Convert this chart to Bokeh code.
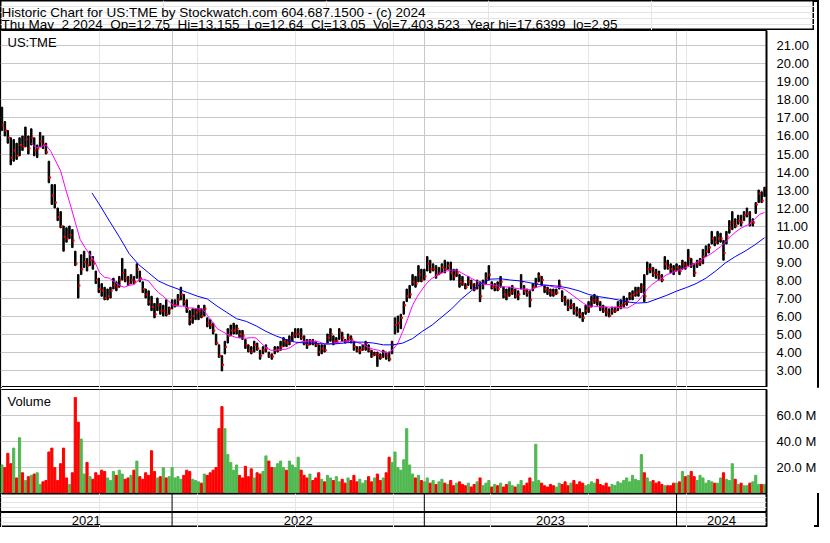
from bokeh.plotting import figure
from bokeh.models import Range1d, FixedTicker, PrintfTickFormatter, ColumnDataSource, Label, Span, Grid
from bokeh.layouts import column
from bokeh.transform import dodge
from bokeh.embed import file_html
from bokeh.resources import INLINE
from bokeh.core.properties import value

# ---------------- data ----------------
title_line1 = "Historic Chart for US:TME by Stockwatch.com 604.687.1500 - (c) 2024"
title_line2 = "Thu May \u00a02 2024 \u00a0Op=12.75 \u00a0Hi=13.155 \u00a0Lo=12.64 \u00a0Cl=13.05 \u00a0Vol=7,403,523 \u00a0Year hi=17.6399 \u00a0lo=2.95"
symbol = "US:TME"

# one bar every 3 trading-day positions, position 0 .. 780
high = [17.6,16.8,16.3,15.9,15.8,15.6,15.9,16.0,16.5,16.0,
        16.4,15.9,15.5,16.2,16.0,15.6,14.6,13.3,13.3,12.0,
        11.8,11.0,10.9,11.0,10.8,9.6,8.3,9.4,9.6,9.2,
        9.6,9.3,8.5,8.1,7.8,7.6,7.5,7.6,8.1,7.9,
        8.2,9.2,8.6,8.2,8.3,8.2,8.9,8.5,7.9,7.5,
        7.4,7.1,6.7,7.0,6.7,6.6,6.9,6.5,6.9,6.9,
        7.2,7.6,7.2,6.9,6.3,6.4,6.4,6.6,6.4,6.6,
        5.9,5.8,5.6,5.0,4.4,3.8,4.6,5.3,5.5,5.6,
        5.5,5.2,5.2,4.7,4.4,4.3,4.6,4.5,4.1,4.3,
        4.4,4.0,3.9,4.3,4.3,4.6,4.8,4.7,4.9,5.1,
        5.3,5.3,5.3,4.9,4.7,4.7,4.7,4.6,4.4,4.4,
        4.4,5.0,5.3,4.9,4.8,5.3,5.1,4.7,5.0,4.9,
        4.6,4.3,4.3,4.4,4.6,4.4,4.1,4.0,4.0,3.9,
        4.1,4.0,4.0,4.6,5.9,6.0,6.1,6.8,7.5,7.7,
        8.3,8.2,8.8,8.6,8.6,9.3,9.1,8.9,8.8,8.7,
        8.9,9.1,9.0,9.0,8.6,8.6,8.3,8.2,7.8,8.2,
        8.0,7.8,8.0,7.9,8.0,8.4,8.8,7.9,7.8,7.9,
        8.2,7.6,7.5,7.6,7.7,7.5,7.4,8.3,7.7,7.5,
        7.4,7.8,8.1,8.4,8.2,7.7,7.6,7.5,7.5,7.5,
        8.0,7.4,7.1,6.9,6.9,6.7,6.5,6.4,6.2,6.6,
        6.8,7.1,7.2,7.1,6.8,6.6,6.5,6.4,6.5,6.5,
        6.8,6.9,7.1,7.0,7.3,7.4,7.6,7.6,7.8,8.3,
        9.0,8.9,8.7,8.6,8.5,8.3,9.3,9.1,8.9,8.8,
        8.9,8.8,9.1,9.0,9.7,9.2,8.9,9.1,9.2,9.7,
        9.9,10.0,10.7,10.4,10.7,10.6,10.2,10.7,11.3,11.8,
        11.4,11.6,11.6,11.8,12.0,11.8,11.4,12.3,13.0,12.9,
        13.155]
low = [16.3,16.0,15.6,14.4,14.6,14.7,14.9,15.2,15.4,15.0,
       15.5,14.9,14.8,15.4,15.3,15.0,13.4,12.2,12.0,11.3,
       10.9,9.6,10.1,10.3,9.8,8.8,7.0,8.3,8.7,8.5,
       8.8,8.6,7.8,7.3,7.1,6.9,6.9,7.0,7.5,7.4,
       7.6,8.0,7.9,7.7,7.8,7.8,8.1,7.9,7.3,7.0,
       6.6,6.3,5.9,6.3,6.1,6.0,6.0,6.1,6.4,6.5,
       6.6,6.9,6.6,6.2,5.5,5.6,5.8,5.8,5.9,6.0,
       5.4,5.3,5.0,4.4,3.7,2.95,3.9,4.5,4.9,5.0,
       5.0,4.8,4.7,4.2,4.0,3.9,4.0,4.1,3.6,3.9,
       4.0,3.7,3.6,3.9,4.0,4.1,4.3,4.3,4.4,4.6,
       4.8,4.8,4.7,4.4,4.2,4.4,4.4,4.3,3.8,3.9,
       4.0,4.5,4.6,4.4,4.5,4.7,4.6,4.5,4.6,4.5,
       4.1,4.0,3.9,4.1,4.1,4.0,3.7,3.8,3.2,3.6,
       3.7,3.6,3.5,3.9,5.0,5.1,5.3,6.1,6.8,7.0,
       7.7,7.6,7.9,7.9,8.0,8.5,8.4,8.5,8.1,8.3,
       8.4,8.4,8.6,8.0,8.0,8.2,7.6,7.7,7.5,7.7,
       7.5,7.4,7.5,6.8,7.5,7.8,8.0,7.5,7.4,7.4,
       7.6,7.0,6.9,7.1,7.2,7.0,6.9,7.5,7.2,7.1,
       6.5,7.4,7.6,7.9,7.7,7.3,7.2,7.1,7.1,7.2,
       7.5,6.8,6.6,6.3,6.4,6.1,6.0,5.9,5.7,6.1,
       6.2,6.5,6.7,6.6,6.3,6.2,6.0,5.95,6.1,6.2,
       6.3,6.4,6.5,6.6,6.9,6.9,7.1,7.1,7.3,6.8,
       8.3,8.4,8.2,8.1,8.0,7.9,8.6,8.6,8.4,8.3,
       8.5,8.3,8.6,8.6,8.8,8.7,8.2,8.7,8.8,8.9,
       9.3,9.5,10.0,9.9,10.0,10.1,9.1,10.0,10.6,10.8,
       10.9,11.1,11.0,11.3,11.5,11.0,11.0,11.7,12.3,12.3,
       12.64]
close = [16.6,16.3,15.9,14.8,15.2,14.9,15.5,15.4,15.8,15.3,
         15.9,15.2,15.3,15.7,15.5,15.1,13.7,12.7,12.3,11.5,
         11.0,10.4,10.3,10.5,10.2,8.9,7.7,8.6,9.0,8.8,
         9.1,8.9,8.0,7.5,7.4,7.0,7.1,7.4,7.7,7.6,
         8.0,8.4,8.1,7.8,8.0,7.9,8.6,8.1,7.5,7.2,
         6.8,6.5,6.1,6.6,6.3,6.3,6.1,6.4,6.6,6.6,
         6.9,7.2,6.8,6.4,5.8,6.0,6.2,6.3,6.0,6.4,
         5.6,5.5,5.2,4.5,3.8,3.3,4.3,4.9,5.2,5.2,
         5.3,5.0,4.9,4.4,4.1,4.0,4.4,4.2,3.8,4.1,
         4.2,3.8,3.75,4.1,4.1,4.3,4.6,4.5,4.6,4.9,
         5.0,5.0,4.8,4.5,4.4,4.6,4.5,4.4,4.0,4.2,
         4.1,4.8,5.0,4.6,4.6,5.1,4.8,4.6,4.8,4.7,
         4.3,4.1,4.1,4.2,4.5,4.1,3.8,3.9,3.8,3.7,
         4.0,3.8,3.6,4.4,5.5,5.6,5.9,6.6,7.1,7.2,
         7.9,7.8,8.3,8.0,8.2,8.9,8.6,8.6,8.3,8.4,
         8.7,8.6,8.8,8.4,8.2,8.4,7.9,7.8,7.6,7.9,
         7.7,7.5,7.7,7.1,7.8,8.1,8.3,7.6,7.6,7.5,
         7.9,7.2,7.1,7.3,7.4,7.1,7.2,7.9,7.4,7.3,
         6.9,7.6,7.8,8.2,8.0,7.5,7.4,7.3,7.2,7.3,
         7.7,7.0,6.8,6.5,6.6,6.3,6.2,6.1,5.9,6.3,
         6.5,6.8,6.9,6.8,6.5,6.3,6.2,6.0,6.3,6.3,
         6.5,6.6,6.7,6.8,7.1,7.2,7.3,7.4,7.6,7.1,
         8.6,8.6,8.4,8.3,8.2,8.0,8.9,8.7,8.6,8.5,
         8.7,8.5,8.9,8.8,9.2,8.9,8.4,8.9,9.0,9.3,
         9.6,9.8,10.3,10.1,10.3,10.3,9.5,10.4,10.9,11.2,
         11.0,11.3,11.2,11.6,11.7,11.2,11.2,12.2,12.8,12.4,
         13.05]
# volume in millions of shares
volume_m = [22,20,31,23,35,12,43,16,10,13,
            14,15,16,7,9,10,32,35,20,10,
            23,35,12,7,16,74,55,42,15,24,
            13,11,16,14,18,17,12,10,17,14,
            18,15,11,12,14,18,25,13,11,16,
            14,33,17,12,13,20,12,13,20,12,
            13,11,14,18,17,11,10,9,8,15,
            14,16,18,20,50,67,50,30,24,18,
            22,14,12,21,13,19,12,16,15,17,
            29,25,20,20,23,25,20,18,25,22,
            20,28,18,14,12,15,10,12,16,11,
            9,14,12,10,13,9,11,8,12,10,
            14,9,11,8,10,13,9,12,15,10,
            12,16,28,24,32,20,18,26,50,22,
            15,12,14,10,9,12,8,10,7,9,
            11,8,7,10,6,8,9,7,6,8,
            5,7,9,12,6,8,10,5,7,6,
            8,5,7,9,6,5,7,10,6,8,
            12,9,38,10,8,6,5,7,6,5,
            8,7,9,6,8,10,7,9,8,6,
            7,9,8,11,7,6,8,5,7,6,
            9,8,10,12,9,14,11,10,30,16,
            12,9,10,8,9,7,6,
            6,6,8,8,9,17,13,14,17,13,
            10,14,12,8,10,9,8,8,12,16,
            11,10,23,11,7,8,6,6,8,9,
            14,7,7,7]
# moving averages
ma_fast = [15.6,15.35,15.4,15.5,15.15,14.6,14.06,13.07,12.17,11.2,
           10.25,9.8,9.4,9.0,8.4,8.15,8.1,7.9,7.7,7.6,
           7.7,7.75,8.0,8.05,7.95,7.6,7.3,7.1,6.85,6.6,
           6.55,6.55,6.45,6.45,6.4,6.4,6.05,5.7,5.3,5.15,
           5.0,4.9,4.8,4.78,4.77,4.8,4.78,4.5,4.25,4.1,
           4.1,4.15,4.15,4.25,4.45,4.55,4.6,4.62,4.6,4.55,
           4.45,4.45,4.5,4.55,4.6,4.65,4.6,4.5,4.4,4.25,
           4.15,4.1,4.0,3.95,4.15,4.5,5.15,5.85,6.6,7.1,
           7.5,7.85,8.1,8.25,8.4,8.5,8.55,8.55,8.4,8.25,
           8.1,7.95,7.8,7.75,7.75,7.7,7.65,7.62,7.6,7.55,
           7.5,7.5,7.45,7.55,7.65,7.7,7.68,7.6,7.58,7.5,
           7.3,7.1,6.9,6.7,6.55,6.55,6.52,6.5,6.5,6.48,
           6.48,6.45,6.45,6.6,6.8,7.1,7.5,7.75,7.95,8.1,
           8.3,8.4,8.5,8.6,8.7,8.8,8.95,9.1,9.3,9.45,
           9.65,9.85,10.1,10.4,10.65,10.85,11.0,11.1,11.4,11.65,
           11.75]
ma_slow = [12.84,12.17,11.27,10.4,9.47,8.85,8.4,7.95,7.7,7.5,
           7.3,7.1,6.95,6.55,6.2,5.85,5.7,5.45,5.15,4.9,
           4.7,4.55,4.5,4.48,4.45,4.45,4.5,4.55,4.55,4.5,
           4.4,4.4,4.5,4.75,5.15,5.5,5.95,6.4,6.95,7.4,
           7.8,8.05,8.07,8.0,7.95,7.85,7.75,7.7,7.65,7.55,
           7.4,7.2,7.08,7.0,6.9,6.78,6.72,6.75,6.95,7.15,
           7.38,7.58,7.8,8.1,8.5,8.95,9.3,9.6,9.95,10.35]
price_ticks = [3,4,5,6,7,8,9,10,11,12,13,14,15,16,17,18,19,20,21]
volume_ticks = [20,40,60]
year_edges = [174, 432, 690]   # positions of Jan 1 of 2022, 2023, 2024
years = ["2021", "2022", "2023", "2024"]
t_end = 782

# ---------------- derived positions ----------------
STEP = 3
t = [i * STEP for i in range(len(close))]
ma_fast_t = [30 + 5 * i for i in range(len(ma_fast))]
ma_slow_t = [92] + [100 + 10 * i for i in range(len(ma_slow) - 1)]
RED, GREEN = "#FF0000", "#50B850"
vcolor = [GREEN] + [GREEN if close[i] >= close[i - 1] else RED for i in range(1, len(close))]
src = ColumnDataSource(dict(t=t, high=high, low=low, close=close, vol=volume_m, vcolor=vcolor))

FONT = "Liberation Sans"
FS = "13px"
FW = 766      # plot frame width
AXW = 48      # right axis column
GRID = "#C8C8C8"
xr = Range1d(-1.5, t_end)


def base(**kw):
    f = figure(output_backend="svg", toolbar_location=None, min_border_left=0,
               min_border_top=kw.pop("top", 0), min_border_bottom=0,
               min_border_right=kw.pop("right", AXW), **kw)
    f.background_fill_color = "white"
    f.border_fill_color = "white"
    f.outline_line_color = "black"
    return f


def style_axis(f, ticks, fmt):
    ax = f.yaxis[0]
    ax.ticker = FixedTicker(ticks=ticks)
    ax.formatter = PrintfTickFormatter(format=fmt)
    ax.major_tick_line_color = None
    ax.minor_tick_line_color = None
    ax.axis_line_width = 2
    ax.axis_line_color = "black"
    ax.major_label_standoff = 4
    ax.major_label_text_font = FONT
    ax.major_label_text_font_size = FS
    ax.major_label_text_color = "black"
    f.ygrid.ticker = FixedTicker(ticks=ticks)
    f.ygrid.grid_line_color = GRID
    f.add_layout(Grid(dimension=0, ticker=FixedTicker(ticks=year_edges), grid_line_color=GRID))


# ---------------- header ----------------
h = base(frame_width=FW + AXW, frame_height=30, right=0, x_range=Range1d(0, 1), y_range=Range1d(0, 1),
         x_axis_location=None, y_axis_location=None)
h.outline_line_width = 2
for txt, yy in ((title_line1, 18.5), (title_line2, 6.5)):
    h.add_layout(Label(x=1, y=yy, x_units="screen", y_units="screen", text=txt, text_font=FONT,
                       text_font_size="13.5px", text_color="black", text_baseline="alphabetic"))

# ---------------- price panel ----------------
p = base(frame_width=FW, frame_height=357, x_range=xr, y_range=Range1d(2.03, 21.86),
         x_axis_location=None, y_axis_location="right")
style_axis(p, price_ticks, "%.2f")
p.vbar(x="t", bottom="low", top="high", width=1.5, color="black", source=src)
p.rect(x=dodge("t", 1.2), y="close", width=2, height=2, width_units="screen", height_units="screen",
       color=RED, line_color=None, source=src)
p.line(ma_fast_t, ma_fast, line_color="#FF00FF", line_width=1)
p.line(ma_slow_t, ma_slow, line_color="#0000FF", line_width=1)
p.add_layout(Label(x=7, y=353, x_units="screen", y_units="screen", text=symbol, text_font=FONT,
                   text_font_size=FS, text_color="black", text_baseline="top"))

# ---------------- volume panel ----------------
v = base(frame_width=FW, frame_height=104, top=2, x_range=xr, y_range=Range1d(0, 80.2),
         x_axis_location=None, y_axis_location="right")
style_axis(v, volume_ticks, "%.1f M")
v.vbar(x="t", bottom=0, top="vol", width=2.2, color="vcolor", source=src)
v.add_layout(Label(x=7, y=100, x_units="screen", y_units="screen", text="Volume", text_font=FONT,
                   text_font_size=FS, text_color="black", text_baseline="top"))

# ---------------- year band ----------------
b = base(frame_width=FW, frame_height=34, x_range=xr, y_range=Range1d(0, 34),
         x_axis_location=None, y_axis_location=None)
b.outline_line_width = 2
b.add_layout(Span(location=15.5, dimension="width", line_color="black", line_width=2))
for e in year_edges:
    b.add_layout(Span(location=e, dimension="height", line_color="black", line_width=1))
edges = [xr.start] + year_edges + [t_end]
mids = [(edges[i] + edges[i + 1]) / 2 for i in range(len(years))]
b.text(x=mids, y=[7.5] * len(years), text=years, text_font=value(FONT), text_font_size=FS,
       text_align="center", text_baseline="middle", text_color="black")

layout = column(h, p, v, b, spacing=0,
                styles={"outline": "2px solid black", "outline-offset": "-2px"})
open("out.html", "w").write(file_html(layout, INLINE))
